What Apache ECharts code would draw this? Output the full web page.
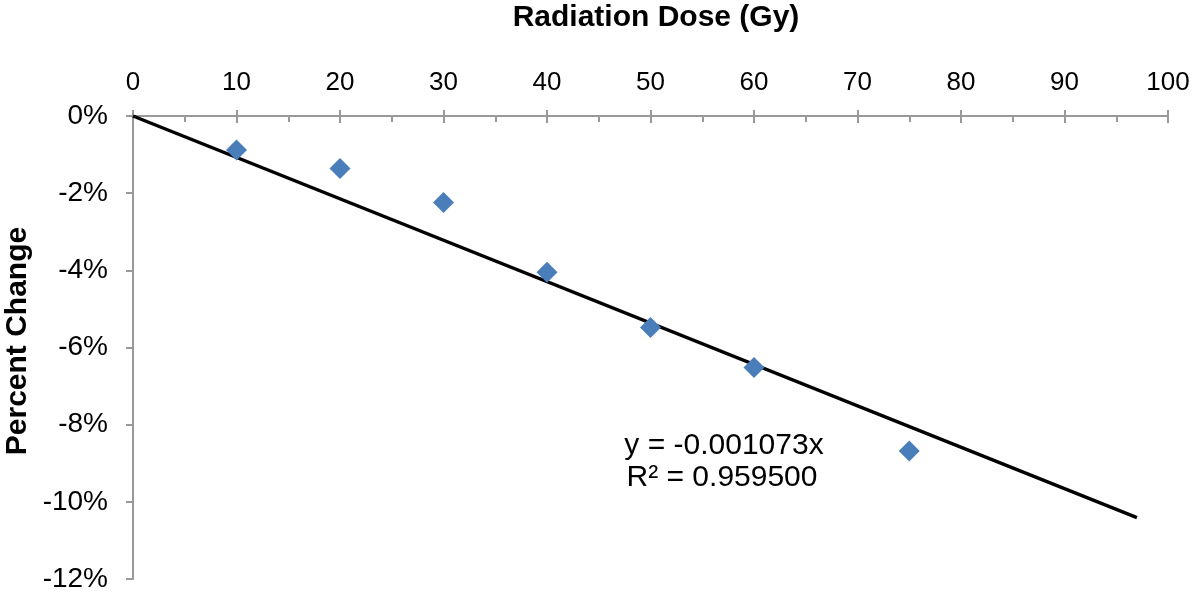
<!DOCTYPE html>
<html>
<head>
<meta charset="utf-8">
<script src="https://cdn.jsdelivr.net/npm/echarts@6/dist/echarts.min.js"></script>
<style>html,body{margin:0;padding:0;background:#fff;}#c{width:1200px;height:599px;}</style>
</head>
<body>
<div id="c"></div>
<script>
const doses = [10, 20, 30, 40, 50, 60, 75];
const percentChange = [-0.88, -1.36, -2.24, -4.05, -5.48, -6.52, -8.68];
const trendX = [0, 97];
const trendY = [0, -10.41];
const equationLines = ['y = -0.001073x', 'R² = 0.959500'];
const xTitle = 'Radiation Dose (Gy)';
const yTitle = 'Percent Change';

const font = '"Liberation Sans", Arial, Helvetica, sans-serif';
const axisColor = '#999999';
const chart = echarts.init(document.getElementById('c'));
chart.setOption({
  animation: false,
  backgroundColor: '#ffffff',
  grid: { left: 133, right: 32, top: 116, bottom: 20 },
  xAxis: [{
    type: 'value', position: 'top', min: 0, max: 100, interval: 10,
    axisLine: { show: true, lineStyle: { color: axisColor, width: 2 } },
    axisTick: { show: true, inside: false, length: 6, lineStyle: { color: axisColor, width: 2 } },
    axisLabel: { margin: 20, fontFamily: font, fontSize: 26, color: '#000' },
    splitLine: { show: false }
  }, {
    type: 'value', position: 'top', min: 0, max: 100, interval: 10,
    axisLine: { show: false },
    axisTick: { show: true, inside: true, length: 7, lineStyle: { color: axisColor, width: 2 } },
    minorTick: { show: true, splitNumber: 2, length: 6, lineStyle: { color: axisColor, width: 2 } },
    axisLabel: { show: false },
    splitLine: { show: false }
  }],
  yAxis: {
    type: 'value', min: -12, max: 0, interval: 2,
    axisLine: { show: true, onZero: false, lineStyle: { color: axisColor, width: 2 } },
    axisTick: { show: true, length: 7, lineStyle: { color: axisColor, width: 2 } },
    axisLabel: { margin: 25, fontFamily: font, fontSize: 28, color: '#000', formatter: v => v + '%' },
    splitLine: { show: false }
  },
  series: [{
    type: 'line',
    data: trendX.map((x, i) => [x, trendY[i]]),
    symbol: 'none',
    lineStyle: { color: '#000', width: 3.5 },
    z: 2
  }, {
    type: 'scatter',
    data: doses.map((x, i) => [x, percentChange[i]]),
    symbol: 'diamond',
    symbolSize: [21, 21],
    itemStyle: { color: '#4a7ebb', opacity: 1 },
    z: 3
  }],
  graphic: [{
    type: 'text', x: 656, y: 18,
    style: { text: xTitle, font: 'bold 30px ' + font, fill: '#000', align: 'center', verticalAlign: 'middle' }
  }, {
    type: 'text', x: 18, y: 341, rotation: Math.PI / 2,
    style: { text: yTitle, font: 'bold 30px ' + font, fill: '#000', align: 'center', verticalAlign: 'middle' }
  }, {
    type: 'text', x: 724, y: 446,
    style: { text: equationLines[0], font: '30px ' + font, fill: '#000', align: 'center', verticalAlign: 'middle' }
  }, {
    type: 'text', x: 722, y: 478,
    style: { text: equationLines[1], font: '30px ' + font, fill: '#000', align: 'center', verticalAlign: 'middle' }
  }]
});
</script>
</body>
</html>
